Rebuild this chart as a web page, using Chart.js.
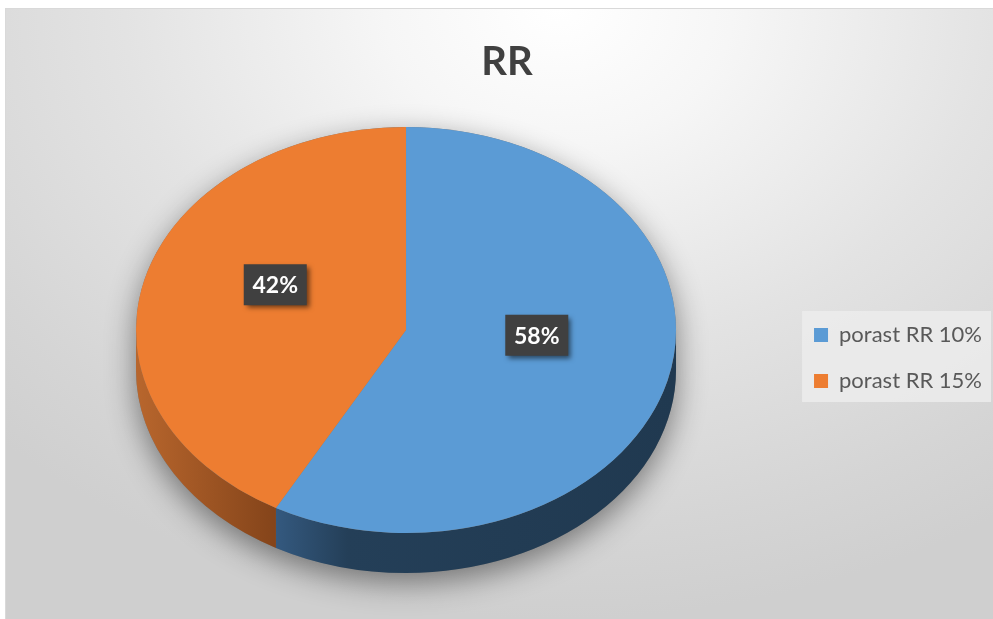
<!DOCTYPE html>
<html>
<head>
<meta charset="utf-8">
<script src="https://cdn.jsdelivr.net/npm/chart.js@4.4.1/dist/chart.umd.min.js"></script>
<style>
  html, body { margin: 0; padding: 0; background: #ffffff; overflow: hidden; width: 993px; height: 619px; }
  #frame {
    position: absolute; left: 5px; top: 8px; width: 988px; height: 611px; overflow: hidden;
    box-sizing: border-box; border-top: 1px solid #d9d9d9; border-left: 1px solid #d9d9d9;
    background: radial-gradient(ellipse 80% 100% at 56% 0%, #ffffff 0%, #f6f6f6 22%, #e3e3e3 55%, #d5d5d5 85%, #cfcfcf 100%);
  }
  #c { position: absolute; left: 0; top: 0; }
</style>
</head>
<body>
<div id="frame"><canvas id="c" width="1000" height="611"></canvas></div>
<script>
// ---- data ----
const chartTitle = 'RR';
const categories = ['porast RR 10%', 'porast RR 15%'];
const values = [58, 42];

// ---- styles ----
const sliceColors = ['#5B9BD5', '#ED7D31'];
const sideStops = [
  [[0, '#34597f'], [0.18, '#243f58'], [1, '#203950']],
  [[0, '#b8662d'], [1, '#84441a']]
];
const TILT = { rx: 270, ry: 203, depth: 40, shiftY: -28 };
const LABEL = { r: 0.5, dy: -20, padX: 9, h: 41 };

function geom(chart) {
  const arcs = chart.getDatasetMeta(0).data;
  const a0 = arcs[0];
  const R = a0.outerRadius;
  return { arcs, cx: a0.x, cy: a0.y, R, sx: TILT.rx / R, sy: TILT.ry / R };
}

function visibleRanges(s, e) {
  const out = [];
  for (let k = -2; k <= 2; k++) {
    const lo = Math.max(s, k * 2 * Math.PI), hi = Math.min(e, k * 2 * Math.PI + Math.PI);
    if (hi > lo) out.push([lo, hi]);
  }
  return out;
}

const pie3d = {
  id: 'pie3d',
  beforeDraw(chart) {
    const lg = chart.legend;
    if (!lg || !lg.legendHitBoxes || !lg.legendHitBoxes.length) return;
    const hb = lg.legendHitBoxes;
    const l = Math.min(...hb.map(h => h.left)) - 12;
    const r = Math.max(...hb.map(h => h.left + h.width)) + 9;
    const t = hb[0].top - 13;
    const b = hb[hb.length - 1].top + hb[hb.length - 1].height + 10;
    const ctx = chart.ctx;
    ctx.save();
    ctx.fillStyle = 'rgba(236,236,236,0.85)';
    ctx.fillRect(l, t, r - l, b - t);
    ctx.restore();
  },
  beforeDatasetsDraw(chart) {
    const ctx = chart.ctx;
    const { arcs, cx, cy, R, sx, sy } = geom(chart);
    const D = TILT.depth / sy;
    ctx.save();
    ctx.translate(cx, cy + TILT.shiftY);
    ctx.scale(sx, sy);
    ctx.translate(-cx, -cy);
    // soft shadow of the cylinder silhouette
    ctx.save();
    ctx.shadowColor = 'rgba(0,0,0,0.45)';
    ctx.shadowBlur = 30;
    ctx.shadowOffsetY = 10;
    ctx.beginPath();
    ctx.arc(cx, cy, R, Math.PI, 2 * Math.PI);
    ctx.arc(cx, cy + D, R, 0, Math.PI);
    ctx.closePath();
    ctx.fillStyle = '#7a7a7a';
    ctx.fill();
    ctx.restore();
    // side walls
    arcs.forEach((a, i) => {
      visibleRanges(a.startAngle, a.endAngle).forEach(([s, e]) => {
        const x1 = cx + R * Math.cos(e), x2 = cx + R * Math.cos(s);
        const left = Math.min(x1, x2), right = Math.max(x1, x2);
        const g = ctx.createLinearGradient(left, 0, right + 0.01, 0);
        sideStops[i].forEach(([p, c]) => g.addColorStop(p, c));
        ctx.beginPath();
        ctx.arc(cx, cy + D, R, s, e);
        ctx.arc(cx, cy, R, e, s, true);
        ctx.closePath();
        ctx.fillStyle = g;
        ctx.fill();
      });
    });
  },
  afterDatasetsDraw(chart) {
    const ctx = chart.ctx;
    ctx.restore();
    const { arcs, cx, cy, R, sx, sy } = geom(chart);
    const total = values.reduce((p, v) => p + v, 0);
    arcs.forEach((a, i) => {
      const m = (a.startAngle + a.endAngle) / 2;
      const px = cx + sx * LABEL.r * R * Math.cos(m);
      const py = cy + TILT.shiftY + sy * LABEL.r * R * Math.sin(m) + LABEL.dy;
      const txt = Math.round(values[i] / total * 100) + '%';
      ctx.save();
      ctx.font = 'bold 23px Lato';
      const w = 63;
      ctx.shadowColor = 'rgba(0,0,0,0.55)';
      ctx.shadowBlur = 5;
      ctx.shadowOffsetX = 3;
      ctx.shadowOffsetY = 3;
      ctx.fillStyle = '#404040';
      ctx.fillRect(px - w / 2, py - LABEL.h / 2, w, LABEL.h);
      ctx.shadowColor = 'transparent';
      ctx.fillStyle = '#ffffff';
      ctx.textAlign = 'center';
      ctx.textBaseline = 'middle';
      ctx.fillText(txt, px, py + 1);
      ctx.restore();
    });
  }
};

new Chart(document.getElementById('c'), {
  type: 'pie',
  data: {
    labels: categories,
    datasets: [{
      data: values,
      backgroundColor: sliceColors,
      borderWidth: 0,
      clip: false
    }]
  },
  options: {
    responsive: false,
    animation: false,
    events: [],
    layout: { padding: { left: 16, right: 14, top: 0, bottom: 0 } },
    plugins: {
      title: {
        display: true,
        text: chartTitle,
        color: '#404040',
        font: { family: 'Lato', size: 40, weight: 'bold' },
        padding: { top: 29, bottom: 10 }
      },
      legend: {
        position: 'right',
        align: 'center',
        fullSize: false,
        labels: {
          color: '#595959',
          font: { family: 'Lato', size: 22 },
          boxWidth: 14,
          boxHeight: 14,
          padding: 24
        }
      },
      tooltip: { enabled: false }
    }
  },
  plugins: [pie3d]
});
</script>
</body>
</html>
